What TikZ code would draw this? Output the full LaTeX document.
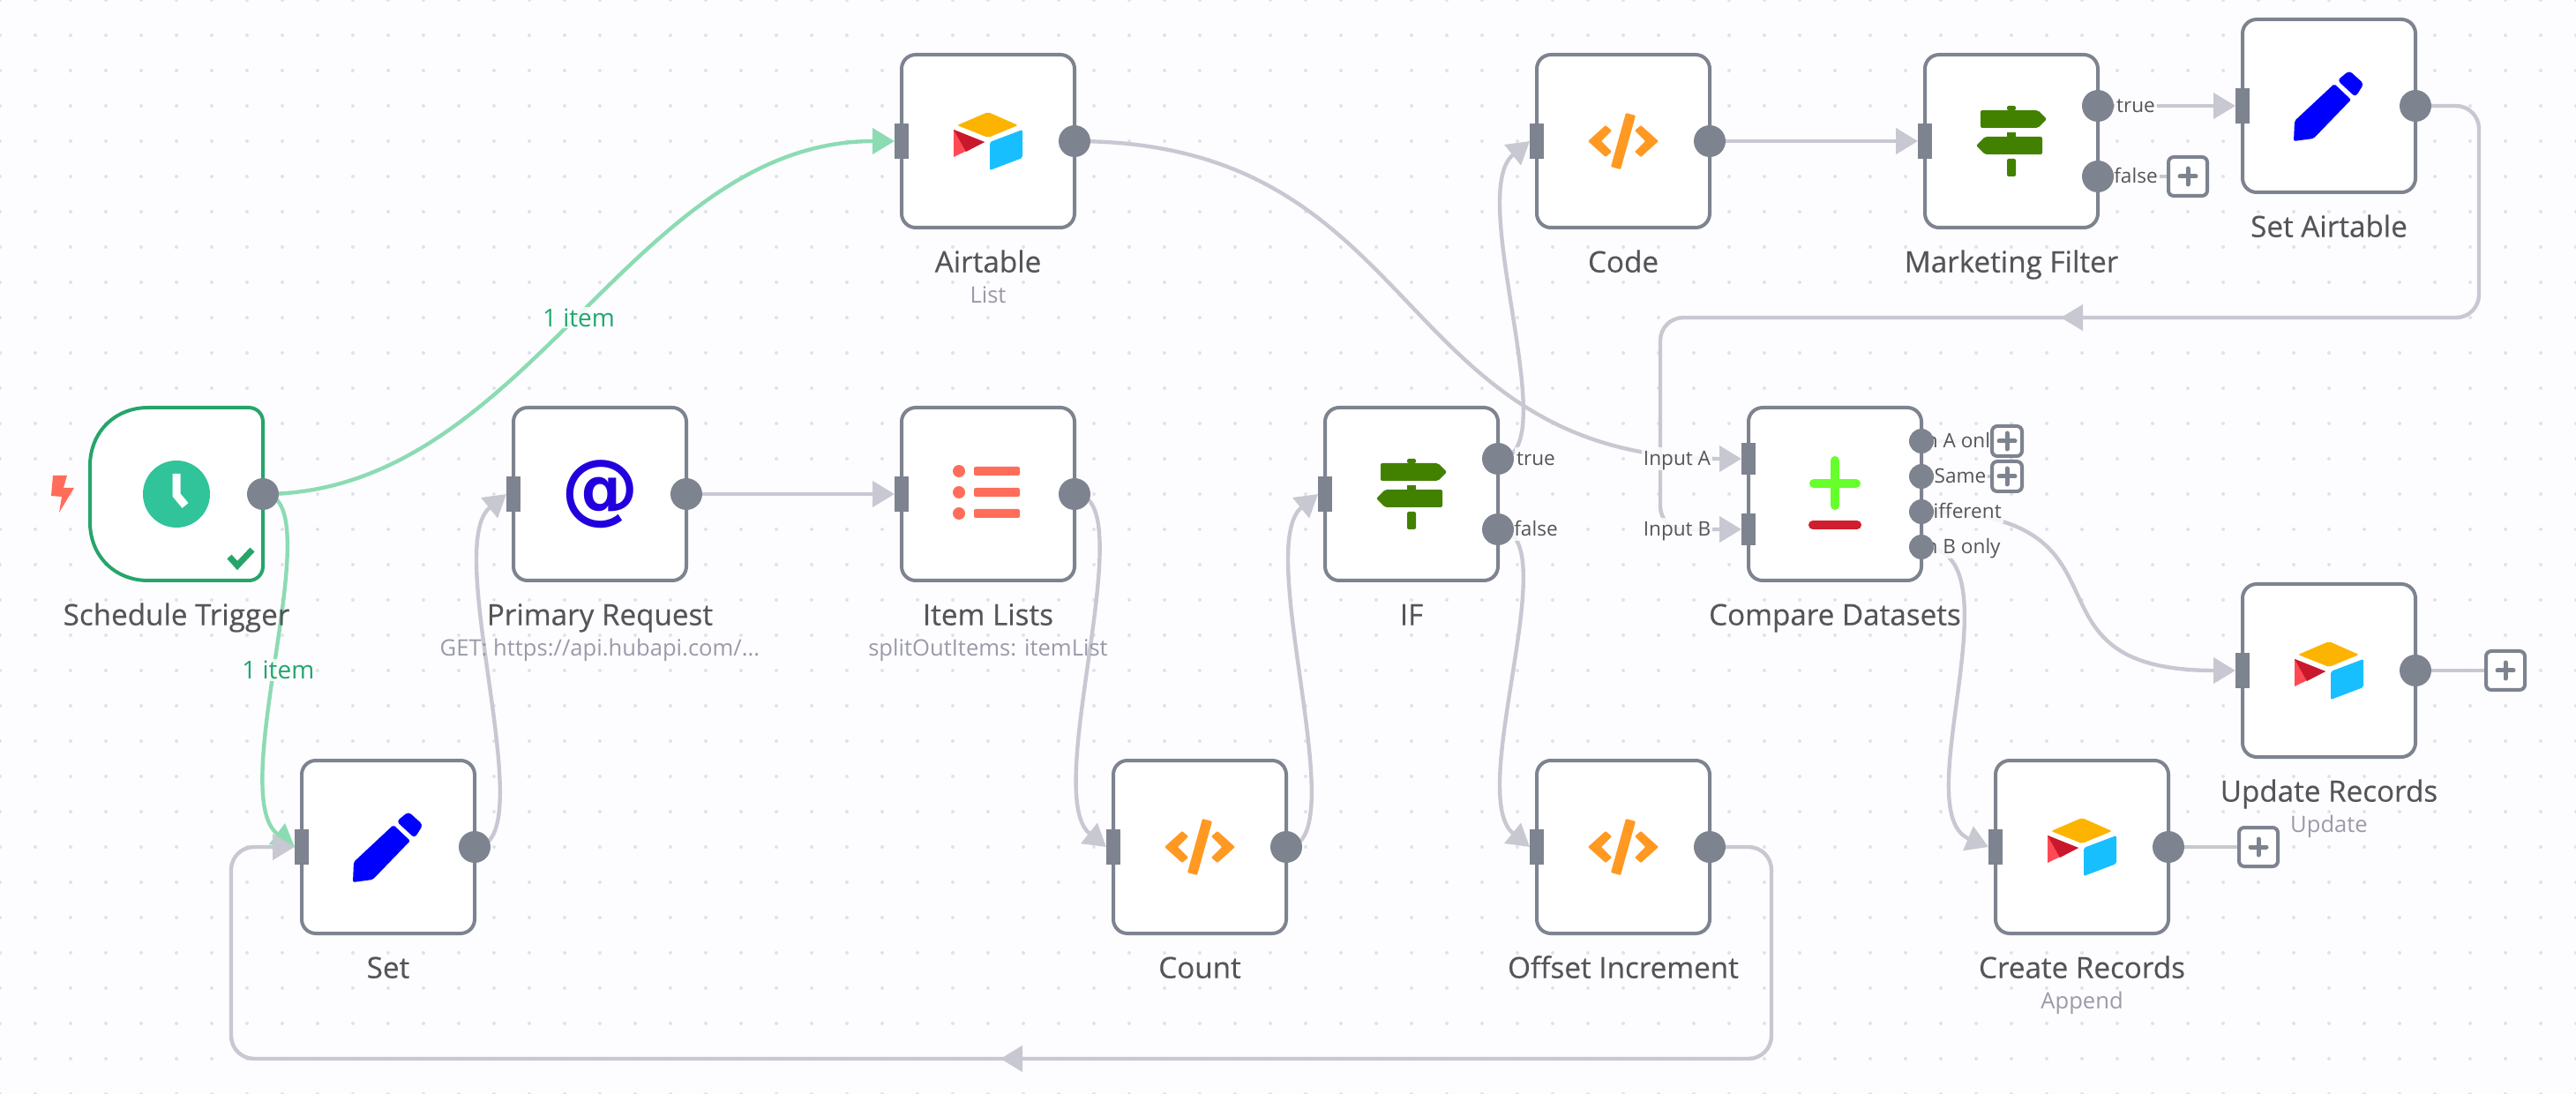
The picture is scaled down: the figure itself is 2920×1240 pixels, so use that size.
\documentclass[tikz,border=0pt]{standalone}
\usepackage{fontspec}
\setmainfont{Open Sans}
\newfontfamily\namefont{Open Sans}[FakeBold=0.4]
\newfontfamily\atfont{DejaVu Sans}
\usetikzlibrary{positioning, arrows.meta, backgrounds, decorations.markings}
\definecolor{canvasc}{HTML}{FDFDFF}
\definecolor{gridc}{HTML}{DFE3E8}
\definecolor{portc}{HTML}{7D838F}
\definecolor{connc}{HTML}{C8C8D2}
\definecolor{okline}{HTML}{8CDBB3}
\definecolor{oktext}{HTML}{1FA76E}
\definecolor{okbox}{HTML}{26A56A}
\definecolor{namec}{HTML}{555558}
\definecolor{subc}{HTML}{9A9AAA}
\definecolor{codec}{HTML}{FF9922}
\definecolor{signc}{HTML}{428100}
\definecolor{listc}{HTML}{FF6D5A}
\definecolor{clockc}{HTML}{31C49A}
\definecolor{plusc}{HTML}{66FF2B}
\definecolor{minusc}{HTML}{CF1E2E}
\definecolor{atc}{HTML}{2200DD}
\definecolor{penc}{HTML}{0000FF}
\definecolor{airy}{HTML}{FCB400}
\definecolor{airb}{HTML}{18BFFF}
\definecolor{airr}{HTML}{FF4A55}
\definecolor{aird}{HTML}{C9182C}
\tikzset{
  signlogo/.pic={
    \fill[signc, rounded corners=1pt] (-35,-35) -- (30,-35) -- (40,-25) -- (30,-15) -- (-35,-15) -- cycle;
    \fill[signc, rounded corners=1pt] (35,-5) -- (-30,-5) -- (-40,5) -- (-30,15) -- (35,15) -- cycle;
    \fill[signc, rounded corners=1pt] (-5,-35) -- (-5,-40) -- (5,-40) -- (5,-35) -- cycle;
    \fill[signc] (-5,-10) rectangle (5,-5);
    \fill[signc, rounded corners=1pt] (-5,20) -- (5,20) -- (5,40) -- (-5,40) -- cycle;
  },
  codelogo/.pic={
    \fill[codec, rounded corners=.5pt] (-40,0) -- (-20,-18) -- (-13,-12) -- (-25,0) -- (-13,12) -- (-20,18) -- cycle;
    \fill[codec, rounded corners=.5pt] (40,0) -- (20,-18) -- (13,-12) -- (25,0) -- (13,12) -- (20,18) -- cycle;
    \fill[codec, rounded corners=.5pt] (3,-32) -- (14,-29) -- (-3,32) -- (-14,29) -- cycle;
  },
  penlogo/.pic={
    \fill[penc, rounded corners=1pt] (-39,17) -- (6,-25) -- (25,-7) -- (-17.5,37) -- (-40,40) -- cycle;
    \fill[penc, rounded corners=2pt] (23,-40) -- (39.5,-25) -- (30,-10) -- (9.5,-29) -- cycle;
  },
  airlogo/.pic={
    \fill[airy, rounded corners=1pt] (0,-33) -- (34,-18) -- (0,-4) -- (-35,-18) -- cycle;
    \fill[airb, rounded corners=1pt] (2,1) -- (39,-13) -- (39,19) -- (2,33) -- cycle;
    \fill[airr] (-39,-13) -- (-4,1) -- (-39,18) -- cycle;
    \fill[aird] (-39,-13) -- (-4,1) -- (-25,12) -- cycle;
  },
}
\begin{document}
\begin{tikzpicture}[
  x=0.5pt, y=-0.5pt, on grid,
  >={Triangle[length=12.5pt, width=14.5pt]},
  box/.style={draw=portc, line width=2pt, rounded corners=8pt, fill=white,
              minimum size=98pt, inner sep=0pt, outer sep=0pt},
  outport/.style={circle, fill=portc, minimum size=18pt, inner sep=0pt, outer sep=0pt},
  smallport/.style={outport, minimum size=14pt},
  inport/.style={fill=portc, minimum width=8pt, minimum height=20pt, inner sep=0pt, outer sep=0pt},
  addbtn/.style={draw=portc, line width=2pt, rounded corners=3pt, fill=white, minimum size=22pt,
                 inner sep=0pt, path picture={
                   \draw[portc, line width=2.5pt, line cap=round]
                     ([xshift=-4.5pt]path picture bounding box.center) -- ([xshift=4.5pt]path picture bounding box.center)
                     ([yshift=-4.5pt]path picture bounding box.center) -- ([yshift=4.5pt]path picture bounding box.center);}},
  smalladd/.style={addbtn, minimum size=17pt},
  conn/.style={draw=connc, line width=2.2pt},
  arr/.style={conn, ->},
  okarr/.style={->, draw=okline, line width=2.2pt},
  midarr/.style={conn, rounded corners=13pt, decoration={markings, mark=at position 0.5 with {\arrow{>}}},
                 postaction={decorate}},
  nodename/.style={font=\namefont\fontsize{16.6}{16.6}\selectfont, text=namec, text height=13.6pt, text depth=2pt,
               inner sep=0pt},
  subname/.style={font=\fontsize{12.8}{12.8}\selectfont, text=subc, text height=10.6pt, text depth=2pt, inner sep=0pt},
  portlbl/.style={font=\fontsize{11.3}{11.3}\selectfont, text=namec, fill=canvasc, fill opacity=.85, text opacity=1,
                  text height=9.5pt, text depth=1.5pt, inner sep=1pt},
  itemlbl/.style={font=\fontsize{14}{14}\selectfont, text=oktext, fill=canvasc, fill opacity=.85, text opacity=1,
                  inner sep=1pt},
]
\useasboundingbox (0,0) rectangle (2920,1240);
% ---- nodes ----
\node[box, draw=none, fill=none] (trig) at (200,560) {};
\node[box, right=240pt of trig] (prim) {};
\node[box, right=220pt of prim] (item) {};
\node[box, right=240pt of item] (iff) {};
\node[box, right=240pt of iff] (cmp) {};
\node[box, above=200pt of item] (air) {};
\node[box, below right=200pt and 120pt of trig] (set) {};
\node[box, below right=200pt and 120pt of item] (count) {};
\node[box, above right=200pt and 120pt of iff] (code) {};
\node[box, below right=200pt and 120pt of iff] (offs) {};
\node[box, right=220pt of code] (filter) {};
\node[box, above right=20pt and 180pt of filter] (setair) {};
\node[box, below right=100pt and 280pt of cmp] (upd) {};
\node[box, below right=200pt and 140pt of cmp] (create) {};
\draw[okbox, line width=2pt, fill=white]
  ([xshift=33pt]trig.north west) .. controls ([xshift=14pt]trig.north west) and ([yshift=-14pt]trig.north west) .. ([yshift=-33pt]trig.north west)
  -- ([yshift=33pt]trig.south west) .. controls ([yshift=14pt]trig.south west) and ([xshift=14pt]trig.south west) .. ([xshift=33pt]trig.south west)
  -- ([xshift=-8pt]trig.south east) .. controls ([xshift=-3.5pt]trig.south east) and ([yshift=3.5pt]trig.south east) .. ([yshift=8pt]trig.south east)
  -- ([yshift=-8pt]trig.north east) .. controls ([yshift=-3.5pt]trig.north east) and ([xshift=-3.5pt]trig.north east) .. ([xshift=-8pt]trig.north east)
  -- cycle;
% ---- ports ----
\foreach \n in {trig, prim, item, air, set, count, code, offs, setair, upd, create}
  \node[outport] (\n O) at (\n.east) {};
\foreach \n in {prim, item, iff, air, set, count, code, offs, filter, setair, upd, create}
  \node[inport] (\n I) at (\n.west) {};
\node[outport] (iffT) at ([yshift=20pt]iff.east) {};
\node[outport] (iffF) at ([yshift=-20pt]iff.east) {};
\node[outport] (filterT) at ([yshift=20pt]filter.east) {};
\node[outport] (filterF) at ([yshift=-20pt]filter.east) {};
\node[inport, minimum height=18pt] (cmpA) at ([yshift=20pt]cmp.west) {};
\node[inport, minimum height=18pt] (cmpB) at ([yshift=-20pt]cmp.west) {};
\node[smallport] (cmpOa) at ([yshift=30pt]cmp.east) {};
\node[smallport] (cmpOb) at ([yshift=10pt]cmp.east) {};
\node[smallport] (cmpOc) at ([yshift=-10pt]cmp.east) {};
\node[smallport] (cmpOd) at ([yshift=-30pt]cmp.east) {};
% ---- add buttons ----
\node[addbtn, right=51pt of filterF] (addF) {};
\node[addbtn, right=51pt of updO] (addU) {};
\node[addbtn, right=51pt of createO] (addC) {};
\node[smalladd, right=48.5pt of cmpOa] (addA) {};
\node[smalladd, right=48.5pt of cmpOb] (addS) {};
% ---- icons ----
\fill[clockc] (trig.center) circle (38);
\draw[white, line width=4.5pt] ([shift={(0,-23)}]trig.center) -- ([shift={(0,1)}]trig.center) -- ([shift={(10,13)}]trig.center);
\fill[listc] (58,562) -- (60,539) -- (76,539) -- (72,553) -- (84,553) -- (67,581) -- (70,563) -- cycle;
\draw[okbox, line width=3.5pt] (260,631) -- (269,641) -- (286,623);
\node[font=\atfont\bfseries\fontsize{44}{44}\selectfont, text=atc, inner sep=0pt] (primicon) at (prim.center) {@};
\pic at (air.center) {airlogo};
\pic at (upd.center) {airlogo};
\pic at (create.center) {airlogo};
\pic at (set.center) {penlogo};
\pic at (setair.center) {penlogo};
\pic at (iff.center) {signlogo};
\pic at (filter.center) {signlogo};
\pic at (count.center) {codelogo};
\pic at (code.center) {codelogo};
\pic at (offs.center) {codelogo};
\foreach \dy in {-26,-2,22} {
  \fill[listc] ([shift={(-33,\dy)}]item.center) circle (7);
  \fill[listc, rounded corners=1pt] ([shift={(-16,\dy-5)}]item.center) rectangle ([shift={(36,\dy+5)}]item.center);
}
\draw[plusc, line width=5pt, line cap=round] ([shift={(-24,-12)}]cmp.center) -- ([shift={(24,-12)}]cmp.center)
  ([shift={(0,-38)}]cmp.center) -- ([shift={(0,13)}]cmp.center);
\draw[minusc, line width=5pt, line cap=round] ([shift={(-25,35)}]cmp.center) -- ([shift={(25,35)}]cmp.center);
% ---- names ----
\foreach \n/\t in {trig/Schedule Trigger, prim/Primary Request, item/Item Lists, iff/IF, cmp/Compare Datasets,
                   air/Airtable, set/Set, count/Count, code/Code, offs/Offset Increment,
                   filter/Marketing Filter, setair/Set Airtable, upd/Update Records, create/Create Records}
  \node[nodename, below=68.5pt of \n] (\n name) {\t};
\node[subname, below=87.5pt of prim] (prim sub) {GET: https://api.hubapi.com/...};
\foreach \n/\t in {item/splitOutItems: itemList, air/List, upd/Update, create/Append}
  \node[subname, below=87.5pt of \n] (\n sub) {\t};
% ---- connectors ----
\begin{scope}[on background layer]
  \fill[canvasc] (0,0) rectangle (2920,1240);
  \foreach \x in {0,40,...,2920}
    \foreach \y in {0,40,...,1240}
      \fill[gridc] (\x,\y) circle (2);
  \draw[okarr] (trigO.center) .. controls +(300,0) and +(-300,0) .. node[itemlbl] (itemA) {1 item} (airI.west);
  \draw[okarr] (trigO.center) .. controls +(80,0) and +(-80,-60) .. node[itemlbl, pos=.54, xshift=1pt] (itemB) {1 item} (setI.west);
  \draw[arr] (setO.center) .. controls +(80,0) and +(-74,60) .. (primI.west);
  \draw[arr] (primO.center) -- (itemI.west);
  \draw[arr] (itemO.center) .. controls +(80,0) and +(-75,-60) .. (countI.west);
  \draw[arr] (countO.center) .. controls +(80,0) and +(-74,60) .. (iffI.west);
  \draw[arr] (iffT.center) .. controls +(80,0) and +(-74,60) .. (codeI.west);
  \draw[arr] (iffF.center) .. controls +(80,0) and +(-74,-60) .. (offsI.west);
  \draw[arr] (codeO.center) -- (filterI.west);
  \draw[arr] (filterT.center) -- (setairI.west);
  \draw[conn] (filterF.center) -- (addF);
  \draw[arr] (airO.center) .. controls +(400,0) and +(-400,0) .. (cmpA.west);
  \draw[arr] (cmpOc.center) .. controls +(260,0) and +(-260,0) .. (updI.west);
  \draw[arr] (cmpOd.center) .. controls +(115,0) and +(-95,-40) .. (createI.west);
  \draw[conn] (cmpOa.center) -- (addA);
  \draw[conn] (cmpOb.center) -- (addS);
  \draw[conn] (updO.center) -- (addU);
  \draw[conn] (createO.center) -- (addC);
  % back loops
  \coordinate (loopNE) at (2810,120);
  \coordinate (loopSE) at (2810,360);
  \coordinate (loopSW) at (1882,360);
  \coordinate (loopEnd) at (1882,600);
  \draw[midarr, ->] (setairO.center) -- (loopNE) -- (loopSE) -- (loopSW) -- (loopEnd) -- (cmpB.west);
  \coordinate (backNE) at (2008,960);
  \coordinate (backSE) at (2008,1200);
  \coordinate (backSW) at (262,1200);
  \coordinate (backEnd) at (262,960);
  \draw[midarr, ->] (offsO.center) -- (backNE) -- (backSE) -- (backSW) -- (backEnd) -- (setI.west);
  % port labels
  \node[portlbl, right=21.5pt of iffT] (lblT) {true};
  \node[portlbl, right=21.5pt of iffF] (lblF) {false};
  \node[portlbl, right=21.5pt of filterT] (lblFT) {true};
  \node[portlbl, right=21.5pt of filterF] (lblFF) {false};
  \node[portlbl, left=40.5pt of cmpA] (lblA) {Input A};
  \node[portlbl, left=40.5pt of cmpB] (lblB) {Input B};
  \node[portlbl, right=22pt of cmpOa] (lblOa) {In A only};
  \node[portlbl, right=22pt of cmpOb] (lblOb) {Same};
  \node[portlbl, right=22pt of cmpOc] (lblOc) {Different};
  \node[portlbl, right=22pt of cmpOd] (lblOd) {In B only};
\end{scope}
\end{tikzpicture}
\end{document}
